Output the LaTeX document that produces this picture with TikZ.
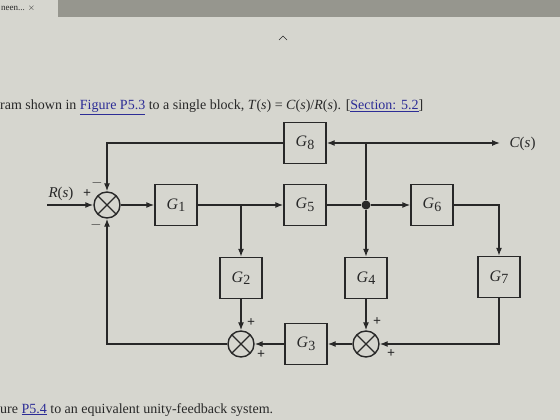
\documentclass[tikz,border=0pt]{standalone}
\usepackage{fontspec}
\setmainfont{Liberation Serif}
\usetikzlibrary{arrows.meta, positioning}

\definecolor{paper}{RGB}{214,214,207}
\definecolor{barcol}{RGB}{150,150,142}
\definecolor{ink}{RGB}{40,40,40}
\definecolor{linkblue}{RGB}{45,45,150}

\newcommand{\gname}[1]{\textit{G}\raisebox{-0.35ex}{\fontsize{14}{14}\selectfont #1}}
\newcommand{\reflink}[1]{\textcolor{linkblue}{\underline{#1}}}

\begin{document}
\begin{tikzpicture}[x=1pt, y=-1pt, >={Latex[length=8pt,width=6pt]},
  block/.style={draw=ink, line width=1.4pt, minimum width=42pt, minimum height=41pt,
                inner sep=0pt, font=\fontsize{16}{16}\selectfont, text=ink},
  junction/.style={draw=ink, line width=1.4pt, circle, minimum size=26pt, inner sep=0pt,
                   path picture={\draw[ink, line width=1.3pt]
                     (path picture bounding box.north west) -- (path picture bounding box.south east)
                     (path picture bounding box.north east) -- (path picture bounding box.south west);}},
  sign/.style={font=\bfseries\fontsize{14}{14}\selectfont, inner sep=0pt, text=ink},
  wire/.style={draw=ink, line width=1.3pt, ->},
  conn/.style={draw=ink, line width=1.3pt}]

  % Page
  \useasboundingbox (0,0) rectangle (560,420);
  \fill[paper] (0,0) rectangle (560,420);
  \fill[barcol] (58,0) rectangle (560,17);
  \node[anchor=base west, inner sep=0pt, font=\fontsize{9}{9}\selectfont, text=ink] (tab) at (1,11) {neen... $\times$};
  \coordinate (chl) at (279,40);
  \coordinate (cht) at (283,36);
  \coordinate (chr) at (287,40);
  \draw[ink] (chl) -- (cht) -- (chr);

  % Surrounding text
  \node[anchor=base west, inner sep=0pt, font=\fontsize{14}{14}\selectfont, text=ink] (hdr) at (0,110)
    {ram shown in \reflink{Figure P5.3} to a single block, \textit{T}(\textit{s}) = \textit{C}(\textit{s})/\textit{R}(\textit{s}). [\reflink{Section: 5.2}]};
  \node[anchor=base west, inner sep=0pt, font=\fontsize{14}{14}\selectfont, text=ink] (ftr) at (0,413)
    {ure \reflink{P5.4} to an equivalent unity-feedback system.};

  % Blocks
  \node[junction] (s1) at (107,205) {};
  \node[block] (g1) at (176,205) {\gname{1}};
  \node[block] (g5) at (305,205) {\gname{5}};
  \node[block] (g6) at (432,205) {\gname{6}};
  \node[block] (g8) at (305,143) {\gname{8}};
  \node[block] (g2) at (241,278) {\gname{2}};
  \node[block] (g4) at (366,278) {\gname{4}};
  \node[block] (g7) at (499,277) {\gname{7}};
  \node[block] (g3) at (306,344) {\gname{3}};
  \node[junction] (s2) at (241,344) {};
  \node[junction] (s3) at (366,344) {};
  \node[circle, fill=ink, inner sep=0pt, minimum size=9pt] (dot) at (366,205) {};

  % Forward path
  \coordinate (rin) at (47,205);
  \coordinate (b1) at (241,205);
  \coordinate (top) at (366,143);
  \coordinate (cout) at (500,143);
  \draw[wire] (rin) -- (s1);
  \draw[wire] (s1) -- (g1);
  \draw[wire] (g1) -- (g5);
  \draw[conn] (g5) -- (dot);
  \draw[wire] (dot) -- (g6);
  \draw[wire] (dot) -- (g4);
  \draw[conn] (dot) -- (top);
  \draw[wire] (top) -- (g8);
  \draw[wire] (top) -- (cout);
  \draw[wire] (g6) -| (g7);

  % Feedback paths
  \draw[wire] (g8) -| (s1);
  \draw[wire] (b1) -- (g2);
  \draw[wire] (g7) |- (s3);
  \draw[wire] (g4) -- (s3);
  \draw[wire] (s3) -- (g3);
  \draw[wire] (g3) -- (s2);
  \draw[wire] (g2) -- (s2);
  \draw[wire] (s2) -| (s1);

  % Labels
  \node[font=\fontsize{15}{15}\selectfont, text=ink] (rlab) at (61,194) {\textit{R}(\textit{s})};
  \node[font=\fontsize{15}{15}\selectfont, text=ink, anchor=west] (clab) at (506,144) {\textit{C}(\textit{s})};
  \node[sign] (p1) at (87,194) {+};
  \node[sign] (m1) at (97,183) {$-$};
  \node[sign] (m2) at (96,225) {$-$};
  \node[sign] (p2) at (251,323) {+};
  \node[sign] (p3) at (261,355) {+};
  \node[sign] (p4) at (377,322) {+};
  \node[sign] (p5) at (391,354) {+};
\end{tikzpicture}
\end{document}
